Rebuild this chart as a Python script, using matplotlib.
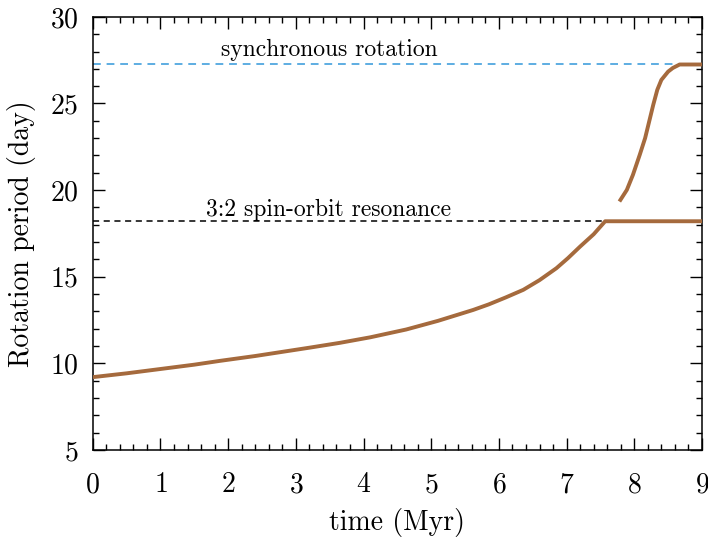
import matplotlib
matplotlib.use("Agg")
import matplotlib.pyplot as plt
from matplotlib.ticker import MultipleLocator

t_main = [0.0, 0.5, 1.0, 1.5, 1.88, 2.4, 2.8, 3.2, 3.65, 4.1, 4.63, 5.1, 5.62, 5.85,
          6.1, 6.36, 6.6, 6.85, 7.02, 7.2, 7.4, 7.57, 9.0]
P_main = [9.2, 9.42, 9.67, 9.92, 10.14, 10.42, 10.66, 10.9, 11.18, 11.5, 11.95, 12.45, 13.08, 13.4,
          13.8, 14.24, 14.8, 15.49, 16.07, 16.74, 17.45, 18.2, 18.2]

t_sync = [7.78, 7.89, 7.98, 8.08, 8.16, 8.22, 8.28, 8.34, 8.40, 8.50, 8.57, 8.63, 8.67, 9.0]
P_sync = [19.34, 20.01, 20.88, 22.03, 23.0, 23.96, 24.92, 25.79, 26.36, 26.84, 27.05, 27.17, 27.25, 27.25]

P_synchronous = 27.25
P_resonance = 18.2

plt.rcParams['font.family'] = 'serif'
plt.rcParams['font.serif'] = ['cmr10', 'DejaVu Serif']
plt.rcParams['mathtext.fontset'] = 'cm'
plt.rcParams['axes.formatter.use_mathtext'] = True

fig = plt.figure(figsize=(7.08, 5.44), dpi=100)
ax = fig.add_axes([0.131, 0.173, 0.8605, 0.796])

ax.axhline(P_synchronous, color='#5dade2', lw=1.4, ls=(0, (4, 3)), zorder=1)
ax.axhline(P_resonance, color='black', lw=1.1, ls=(0, (4, 3)), zorder=1)

ax.plot(t_main, P_main, color='#a56a3d', lw=2.8, solid_capstyle='butt', zorder=3)
ax.plot(t_sync, P_sync, color='#a56a3d', lw=2.8, solid_capstyle='butt', zorder=3)

ax.text(3.49, 28.1, 'synchronous rotation', ha='center', va='center', fontsize=17)
ax.text(3.48, 18.85, '3:2 spin-orbit resonance', ha='center', va='center', fontsize=17)

ax.set_xlim(0, 9)
ax.set_ylim(5, 30)
ax.xaxis.set_major_locator(MultipleLocator(1))
ax.xaxis.set_minor_locator(MultipleLocator(0.2))
ax.yaxis.set_major_locator(MultipleLocator(5))
ax.yaxis.set_minor_locator(MultipleLocator(1))
ax.tick_params(which='both', direction='in', top=True, right=True, labelsize=20, width=1.0)
ax.tick_params(which='major', length=8.5)
ax.tick_params(which='minor', length=4.3)
ax.tick_params(axis='x', which='major', pad=16)
ax.tick_params(axis='y', which='major', pad=10)
for s in ax.spines.values():
    s.set_linewidth(1.1)

ax.set_xlabel('time (Myr)', fontsize=20, labelpad=7)
ax.set_ylabel('Rotation period (day)', fontsize=20, labelpad=10)

fig.savefig('out.png', dpi=100)
